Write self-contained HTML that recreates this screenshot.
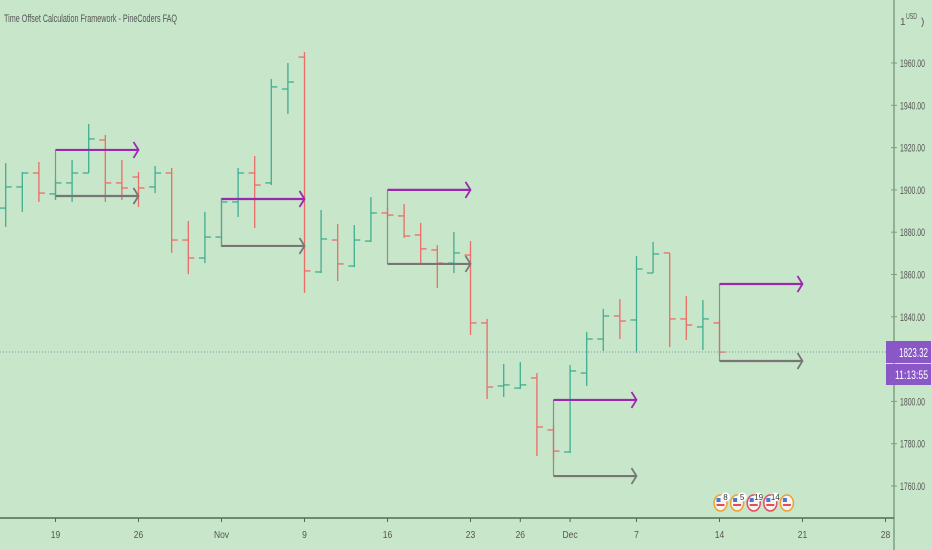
<!DOCTYPE html>
<html><head><meta charset="utf-8"><style>
html,body{margin:0;padding:0;background:#c8e6c9;}
svg{display:block;font-family:"Liberation Sans",sans-serif;}
</style></head><body>
<svg id="chart" width="932" height="550" viewBox="0 0 932 550" xmlns="http://www.w3.org/2000/svg">
<rect x="0" y="0" width="932" height="550" fill="#c8e6c9"/>
<text x="4" y="22" font-size="11" fill="#555" textLength="173" lengthAdjust="spacingAndGlyphs">Time Offset Calculation Framework - PineCoders FAQ</text>
<g id="bars"></g>
<g id="arrows"></g>
<line x1="0" y1="352" x2="893" y2="352" stroke="#7a9aa8" stroke-width="1" stroke-dasharray="1,2"/>
<line x1="894" y1="0" x2="894" y2="550" stroke="#7f9f85" stroke-width="1.5"/>
<line x1="0" y1="518" x2="894" y2="518" stroke="#4e6a57" stroke-width="1.5"/>
<g id="yaxis"></g>
<g id="xaxis"></g>
<text x="900" y="25" font-size="10" fill="#555">1</text>
<text x="906" y="19" font-size="8" fill="#555" textLength="11" lengthAdjust="spacingAndGlyphs">USD</text>
<text x="921" y="25" font-size="10" fill="#555">)</text>
<g>
<rect x="886" y="341" width="45" height="22" fill="#8a57c7"/>
<text x="899" y="357" font-size="13" fill="#fff" textLength="29" lengthAdjust="spacingAndGlyphs">1823.32</text>
</g>
<g>
<rect x="886" y="364" width="45" height="21" fill="#8a57c7"/>
<text x="895" y="379" font-size="12" fill="#fff" textLength="33" lengthAdjust="spacingAndGlyphs">11:13:55</text>
</g>
<g id="events"></g>
</svg>
<script>
// bar index (0 = Oct 19), OHLC
const barIndex = [-3,-2,-1,0,1,2,3,4,5,6,7,8,9,10,11,12,13,14,15,16,17,18,19,20,21,22,23,24,25,26,27,28,29,30,31,32,33,34,35,36,37,38,39,40];
const opens  = [1891.4,1901.4,1908.0,1898.1,1903.3,1908.0,1923.6,1903.3,1906.1,1901.4,1908.0,1876.3,1867.8,1877.7,1894.3,1908.0,1903.3,1947.7,1962.8,1861.2,1876.3,1864.0,1875.8,1889.1,1887.7,1878.7,1871.6,1865.4,1869.2,1837.1,1807.3,1806.3,1811.1,1786.5,1776.1,1813.4,1829.5,1840.4,1838.5,1860.7,1870.2,1839.0,1835.2,1837.1];
const highs  = [1912.7,1908.5,1913.2,1904.7,1914.1,1931.2,1926.0,1914.1,1908.5,1911.3,1910.4,1885.3,1889.6,1896.2,1910.4,1916.0,1952.4,1960.0,1965.2,1890.5,1883.9,1883.4,1896.6,1891.4,1893.3,1884.4,1873.9,1880.1,1875.8,1839.0,1817.7,1818.6,1813.4,1788.8,1817.2,1832.8,1843.7,1848.4,1868.7,1875.4,1870.2,1849.8,1847.9,1838.5];
const lows   = [1882.5,1889.6,1894.3,1895.2,1894.3,1908.0,1894.3,1895.2,1891.9,1898.5,1870.2,1860.2,1865.4,1873.0,1887.2,1882.0,1902.3,1935.9,1851.3,1860.7,1856.9,1863.5,1875.4,1886.7,1877.3,1865.4,1853.6,1860.7,1831.4,1801.1,1802.1,1805.9,1774.2,1772.3,1775.6,1807.3,1823.8,1829.5,1822.9,1860.7,1825.7,1829.0,1824.3,1821.9];
const closes = [1901.4,1908.0,1898.5,1903.3,1908.0,1924.1,1903.3,1900.9,1900.9,1908.0,1876.3,1867.8,1877.7,1894.3,1908.0,1902.3,1948.7,1951.0,1861.7,1876.8,1865.0,1876.3,1889.1,1888.1,1878.2,1872.1,1865.4,1870.2,1837.1,1806.8,1807.8,1807.8,1787.9,1776.5,1814.4,1829.5,1840.4,1838.0,1862.6,1869.7,1839.0,1836.1,1839.0,1823.32];
// offset arrows
const arrowStart = [0,10,20,30,40];
const arrowLen = [5,5,5,5,5];
const arrowUpper = [1918.9,1895.7,1900.0,1800.7,1855.5];
const arrowLower = [1897.1,1873.5,1865.0,1764.7,1819.1];
// axes
const priceTicks = [1960,1940,1920,1900,1880,1860,1840,1800,1780,1760];
const timeTickIndex = [0,5,10,15,20,25,28,31,35,40,45,50];
const timeTickLabels = ["19","26","Nov","9","16","23","26","Dec","7","14","21","28"];
// events
const eventIndex = [40,41,42,43,44];
const eventCounts = ["8","5","19","14",""];
const eventRing = ["#f0a030","#f0a030","#e84a5f","#e84a5f","#f0a030"];

const NS="http://www.w3.org/2000/svg";
const xOf = i => 55.5 + i*16.6;
const yOf = p => 63 + (1960 - p)*2.115;
function mk(tag, attrs, parent){const e=document.createElementNS(NS,tag);for(const k in attrs)e.setAttribute(k,attrs[k]);parent.appendChild(e);return e;}

const gb=document.getElementById('bars');
for(let k=0;k<barIndex.length;k++){
  const x=xOf(barIndex[k]);
  const up=closes[k]>=opens[k];
  const col=up?'#3fae92':'#ec6c68';
  const g=mk('g',{stroke:col,'stroke-width':1.3},gb);
  
  
  mk('line',{x1:x,y1:yOf(highs[k]),x2:x,y2:yOf(lows[k])},g);
  mk('line',{x1:x-6,y1:yOf(opens[k]),x2:x,y2:yOf(opens[k])},g);
  mk('line',{x1:x,y1:yOf(closes[k]),x2:x+6,y2:yOf(closes[k])},g);
}

const ga=document.getElementById('arrows');
for(let k=0;k<arrowStart.length;k++){
  const x1=xOf(arrowStart[k]), x2=xOf(arrowStart[k]+arrowLen[k]);
  const yu=yOf(arrowUpper[k]), yl=yOf(arrowLower[k]);
  const c=mk('line',{x1:x1,y1:yu,x2:x1,y2:yl,stroke:'#8a8f8a','stroke-width':1.2},ga);
  
  
  const pu=mk('path',{d:`M${x1} ${yu}H${x2}`,stroke:'#9c27b0','stroke-width':2.2,fill:'none'},ga);
  
  
  mk('path',{d:`M${x2-5} ${yu-8}L${x2} ${yu}L${x2-5} ${yu+8}`,stroke:'#9c27b0','stroke-width':1.8,fill:'none'},ga);
  const pl=mk('path',{d:`M${x1} ${yl}H${x2}`,stroke:'#767676','stroke-width':2.2,fill:'none'},ga);
  
  
  mk('path',{d:`M${x2-5} ${yl-8}L${x2} ${yl}L${x2-5} ${yl+8}`,stroke:'#767676','stroke-width':1.8,fill:'none'},ga);
}

const gy=document.getElementById('yaxis');
for(const p of priceTicks){
  const y=yOf(p);
  mk('line',{x1:891,y1:y,x2:897,y2:y,stroke:'#7f9f85'},gy);
  const t=mk('text',{x:900,y:y+4,'font-size':11,fill:'#555',textLength:25,lengthAdjust:'spacingAndGlyphs'},gy);
  t.textContent=p.toFixed(2);
  
  
}
const gx=document.getElementById('xaxis');
for(let k=0;k<timeTickIndex.length;k++){
  const x=xOf(timeTickIndex[k]);
  mk('line',{x1:x,y1:518,x2:x,y2:522,stroke:'#4e6a57'},gx);
  const t=mk('text',{x:x,y:538,'font-size':10,fill:'#555','text-anchor':'middle',transform:`translate(${x},0) scale(0.85,1) translate(${-x},0)`},gx);
  t.textContent=timeTickLabels[k];
  
  
}
const ge=document.getElementById('events');
for(let k=0;k<eventIndex.length;k++){
  const x=xOf(eventIndex[k])+1, y=503;
  const g=mk('g',{},ge);
  
  
  mk('ellipse',{cx:x,cy:y,rx:6.5,ry:8,fill:'#f4f4f4',stroke:eventRing[k],'stroke-width':1.5},g);
  mk('rect',{x:x-4,y:y-5,width:4,height:4,fill:'#4a78c8'},g);
  mk('rect',{x:x-4,y:y+1,width:8,height:2,fill:'#e05050'},g);
  if(eventCounts[k]){
    mk('circle',{cx:x+5,cy:y-6,r:4.5,fill:'#fff'},g);
    const t=mk('text',{x:x+5,y:y-3,'font-size':8,fill:'#333','text-anchor':'middle'},g);
    t.textContent=eventCounts[k];
  }
}
</script>
</body></html>
